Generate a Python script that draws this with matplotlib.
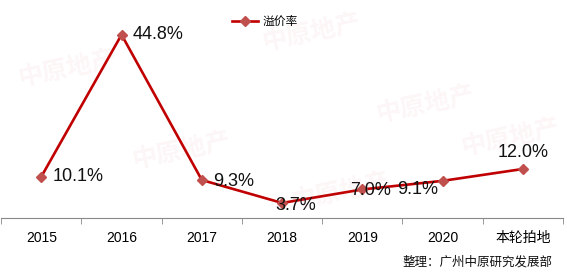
import matplotlib
matplotlib.use("Agg")
import matplotlib.pyplot as plt

plt.rcParams['font.family'] = ['Liberation Sans', 'Noto Sans CJK SC', 'DejaVu Sans']

categories = ['2015', '2016', '2017', '2018', '2019', '2020', '本轮拍地']
premium = [10.1, 44.8, 9.3, 3.7, 7.0, 9.1, 12.0]
labels = ['10.1%', '44.8%', '9.3%', '3.7%', '7.0%', '9.1%', '12.0%']
# label offsets in points (dx, dy) and alignment
offsets = [(8, 0, 'left', 'center'), (8, 0, 'left', 'center'), (8, -1, 'left', 'center'),
           (10, -2, 'center', 'center'), (6, -1, 'center', 'center'),
           (-3, -6, 'right', 'center'), (0, 12, 'center', 'center')]

fig = plt.figure(figsize=(5.67, 2.74), dpi=100)
ax = fig.add_axes([0.002, 0.204, 0.991, 0.747])

x = list(range(len(categories)))
ax.plot(x, premium, color='#C00000', lw=1.9, marker='D', markersize=5.5,
        markerfacecolor='#C0504D', markeredgecolor='#C0504D', label='溢价率', zorder=3)

for i, (v, t) in enumerate(zip(premium, labels)):
    dx, dy, ha, va = offsets[i]
    ax.annotate(t, (i, v), xytext=(dx, dy), textcoords='offset points',
                ha=ha, va=va, fontsize=13, color='#111111', zorder=4)

ax.set_xlim(-0.5, len(categories) - 0.5)
ax.set_ylim(0, 50)
ax.set_yticks([])
for s in ['top', 'right', 'left']:
    ax.spines[s].set_visible(False)
ax.spines['bottom'].set_color('#888888')
ax.set_xticks(x)
ax.set_xticklabels(categories, fontsize=10)
ax.tick_params(axis='x', which='major', length=0, pad=9)
ax.set_xticks([i - 0.5 for i in range(len(categories) + 1)], minor=True)
ax.tick_params(axis='x', which='minor', length=4, color='#888888')

leg = ax.legend(loc='upper center', bbox_to_anchor=(0.47, 1.04), frameon=False,
                fontsize=8.5, handlelength=2.2, handletextpad=0.4)

# faint watermarks
for wx, wy in [(0.12, 0.75), (0.55, 0.88), (0.32, 0.45), (0.75, 0.62), (0.6, 0.3), (0.9, 0.5)]:
    fig.text(wx, wy, '中原地产', fontsize=18, color='#E06060', alpha=0.06,
             rotation=12, ha='center', va='center', weight='bold', zorder=0)

fig.text(0.975, 0.02, '整理：广州中原研究发展部', fontsize=9, ha='right', va='bottom', color='#111111')

fig.savefig('out.png', dpi=100)
